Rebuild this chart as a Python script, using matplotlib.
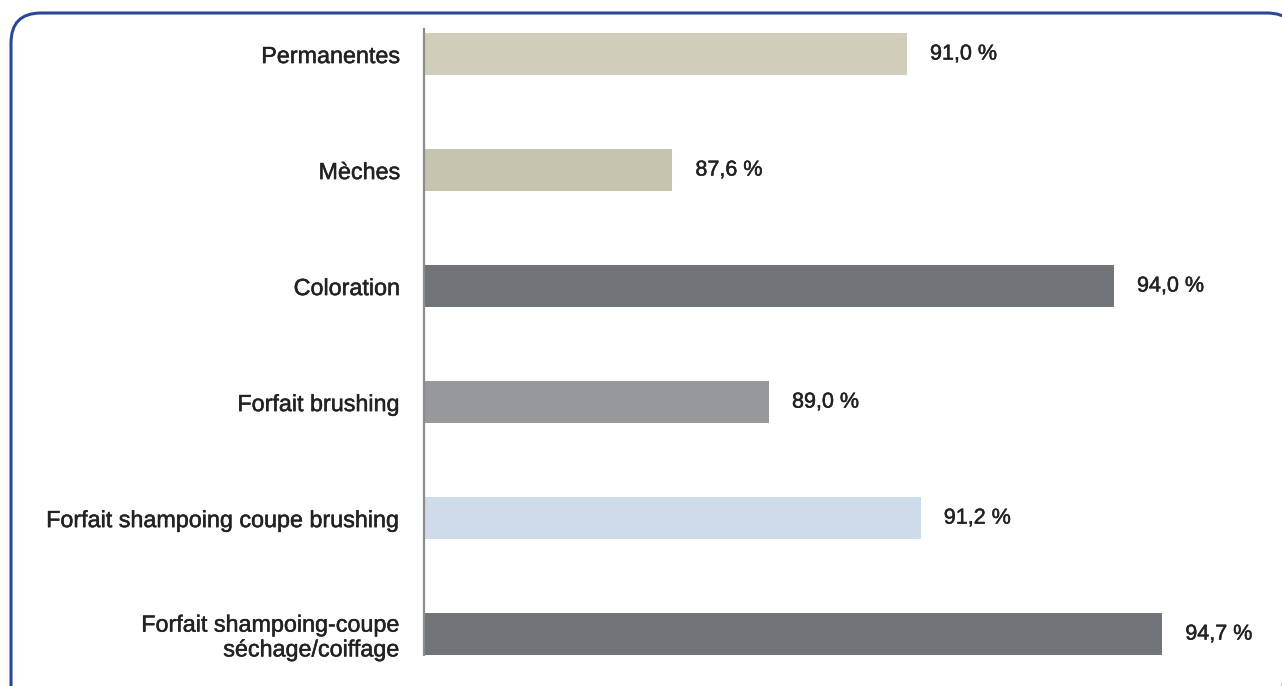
import matplotlib
matplotlib.use("Agg")
import matplotlib.pyplot as plt
from matplotlib.patches import FancyBboxPatch
import matplotlib.patheffects as pe

plt.rcParams['font.family'] = ['Liberation Sans', 'DejaVu Sans']

categories = ["Permanentes", "Mèches", "Coloration", "Forfait brushing",
              "Forfait shampoing coupe brushing",
              "Forfait shampoing-coupe\nséchage/coiffage"]
values = [91.0, 87.6, 94.0, 89.0, 91.2, 94.7]
value_labels = ["91,0 %", "87,6 %", "94,0 %", "89,0 %", "91,2 %", "94,7 %"]
colors = ["#d0cebb", "#c6c4af", "#717479", "#96989c", "#cedbea", "#717479"]

W, H = 1282, 686
fig = plt.figure(figsize=(W / 100, H / 100), dpi=100)

# background axes in pixel coordinates for the rounded frame
bg = fig.add_axes([0, 0, 1, 1])
bg.set_xlim(0, W)
bg.set_ylim(H, 0)
bg.axis("off")
frame = FancyBboxPatch((11, 13), 1297 - 11, 760 - 13,
                       boxstyle="round,pad=0,rounding_size=30",
                       facecolor="none", edgecolor="#2b4796",
                       linewidth=2.2, clip_on=True)
bg.add_patch(frame)

ax = fig.add_axes([424 / W, 1 - 655 / H, (1252 - 424) / W, (655 - 29) / H])
ax.patch.set_alpha(0)
ypos = list(range(len(categories)))
ax.barh(ypos, values, height=0.36, color=colors, left=0)
ax.set_xlim(84, 96)
ax.set_ylim(5.18, -0.216)

heavy = [pe.withStroke(linewidth=0.35, foreground="#222222")]
for y, v, lab in zip(ypos, values, value_labels):
    ax.annotate(lab, (v, y), xytext=(23, 0), textcoords="offset pixels",
                va="center", ha="left", fontsize=15.5, color="#222222",
                path_effects=heavy)

ax.set_yticks(ypos)
ax.set_yticklabels(categories, fontsize=16.8, color="#222222")
for t in ax.get_yticklabels():
    t.set_path_effects(heavy)
    t.set_linespacing(1.1)
ax.tick_params(axis="y", length=0, pad=17)
ax.set_xticks([])
for s in ["top", "right", "bottom"]:
    ax.spines[s].set_visible(False)
ax.spines["left"].set_color("#8c8c8c")
ax.spines["left"].set_linewidth(1.6)

fig.savefig("out.png", dpi=100)
